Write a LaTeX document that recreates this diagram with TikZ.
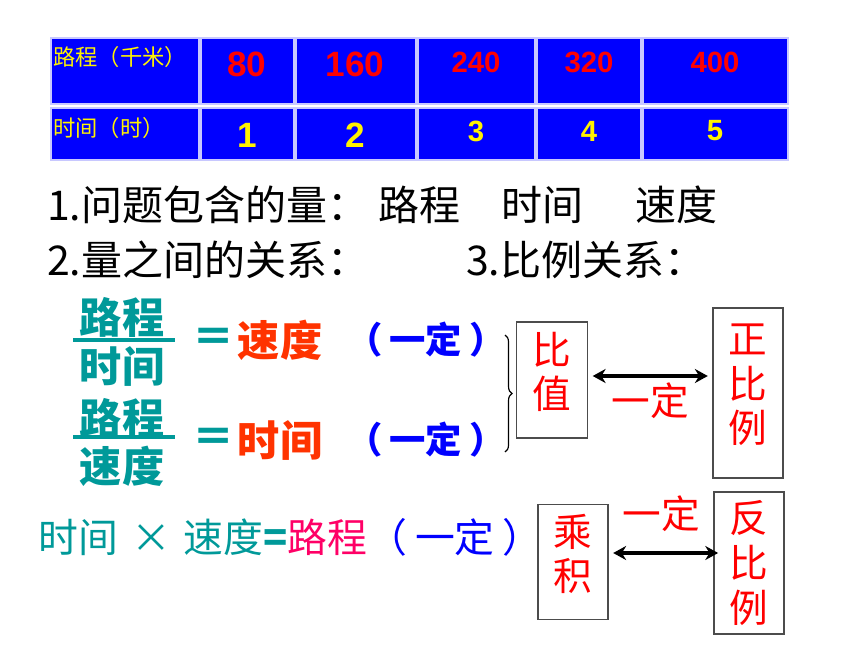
\documentclass[tikz,border=0pt]{standalone}
\usepackage{fontspec}
\setmainfont{Liberation Sans}
\newfontfamily\cjk{Noto Sans CJK SC}
\usepackage{tikz}
\usetikzlibrary{arrows.meta,calc,decorations.pathreplacing}
\definecolor{lanse}{HTML}{0000FF}
\definecolor{qingse}{HTML}{009999}
\definecolor{juhong}{HTML}{FF3300}
\definecolor{meihong}{HTML}{FF0066}
\definecolor{bianxian}{HTML}{C8C8FF}

\begin{document}
\begin{tikzpicture}[x=0.03cm, y=-0.03cm, >={Stealth[length=11pt,width=12pt]},
  ge/.style={fill=lanse, draw=bianxian, line width=1.2pt},
  tou/.style={anchor=west, inner sep=0pt, text=yellow, font=\cjk\fontsize{19}{22}\selectfont},
  lc/.style={text=red, inner sep=0pt, font=\bfseries\fontsize{30}{32}\selectfont},
  sj/.style={text=yellow, inner sep=0pt, font=\bfseries\fontsize{30}{32}\selectfont},
  wen/.style={anchor=west, inner sep=0pt, font=\cjk\fontsize{35}{40}\selectfont},
  fen/.style={inner sep=0pt, text=qingse, font=\cjk\bfseries\fontsize{36}{40}\selectfont},
  fenxian/.style={qingse, line width=2.8pt},
  kuang/.style={draw=gray!60!black, line width=0.9pt, inner sep=0pt},
  zi/.style={text=red, align=center, inner sep=0pt, font=\cjk\fontsize{33}{38}\selectfont},
  shuang/.style={<->, line width=3pt, shorten <=4pt, shorten >=4pt},
  yiding/.style={text=red, inner sep=1pt, font=\cjk\fontsize{33}{38}\selectfont}]
  \useasboundingbox (0,0) rectangle (860,645);
  \foreach \a/\b in {51/199,201/294,296/416,418/535,537/641,643/788}
    {\filldraw[ge] (\a,38) rectangle (\b,104); \filldraw[ge] (\a,108) rectangle (\b,160);}
  \node[tou] (luchengtou) at (53,57) {路程（千米）};
  \node[tou] (shijiantou) at (53,128) {时间（时）};
  \foreach \n/\x/\s/\t in {1/247/80/1,2/355/160/2}
    {\node[lc] (lc\n) at (\x,64) {\s}; \node[sj] (sj\n) at (\x,135) {\t};}
  \foreach \n/\x/\s/\t in {3/476/240/3,4/589/320/4,5/715/400/5}
    {\node[lc, font=\bfseries\fontsize{25}{28}\selectfont] (lc\n) at (\x,62) {\s};
     \node[sj, font=\bfseries\fontsize{25}{28}\selectfont] (sj\n) at (\x,131) {\t};}
  \node[wen] (wenti) at (47,205) {1.问题包含的量：};
  \node[wen] (liang1) at (378,205) {路程}; \node[wen] (liang2) at (501,205) {时间}; \node[wen] (liang3) at (635,205) {速度};
  \node[wen] (guanxi) at (47,260) {2.量之间的关系：}; \node[wen] (bili) at (466,260) {3.比例关系：};
  \node[fen] (fz1) at (122,317) {路程}; \node[fen] (fm1) at (122,366) {时间};
  \draw[fenxian] (73,340) -- (175,340);
  \node[fen] (dh1) at (214,340) {＝}; \node[fen, text=juhong] (sudu) at (280,340) {速度};
  \node[fen, text=lanse, font=\cjk\bfseries\fontsize{31}{36}\selectfont] (yd1) at (426,340) {（\hspace{0.2em}一定\hspace{0.2em}）};
  \node[fen] (fz2) at (122,418) {路程}; \node[fen] (fm2) at (122,466) {速度};
  \draw[fenxian] (73,437) -- (175,437);
  \node[fen] (dh2) at (214,440) {＝}; \node[fen, text=juhong] (shijian) at (280,440) {时间};
  \node[fen, text=lanse, font=\cjk\bfseries\fontsize{31}{36}\selectfont] (yd2) at (426,440) {（\hspace{0.2em}一定\hspace{0.2em}）};
  \draw[line width=1pt, decorate, decoration={brace, amplitude=6pt}] (505,335) -- (505,452);
  \node[kuang, minimum width=2.13cm, minimum height=3.48cm, label={[zi, yshift=7pt]center:比\\值}] (bizhi) at (552,380) {};
  \node[kuang, minimum width=2.1cm, minimum height=5.1cm, label={[zi, yshift=7pt]center:正\\比\\例}] (zheng) at (748,393) {};
  \draw[shuang] ($(bizhi.east)+(0,-4)$) -- ($(bizhi.east -| zheng.west)+(0,-4)$) node[yiding, midway, below=3pt] (yd3) {一定};
  \node[anchor=west, inner sep=0pt, text=qingse, font=\cjk\fontsize{34}{40}\selectfont] (chengfa) at (38,537)
    {时间\hspace{0.35em}×\hspace{0.3em}速度{\bfseries =}\textcolor{meihong}{路程}\textcolor{lanse}{（\hspace{0.2em}一定\hspace{0.2em}）}};
  \node[kuang, minimum width=2.1cm, minimum height=3.45cm, label={[zi, yshift=7pt]center:乘\\积}] (chengji) at (573,562) {};
  \node[kuang, minimum width=2.1cm, minimum height=4.26cm, label={[zi]center:反\\比\\例}] (fan) at (749,563) {};
  \draw[shuang, shorten >=-4pt] ($(chengji.east)+(0,-9)$) -- ($(chengji.east -| fan.west)+(0,-9)$) node[yiding, midway, above=16pt] (yd4) {一定};
\end{tikzpicture}
\end{document}
